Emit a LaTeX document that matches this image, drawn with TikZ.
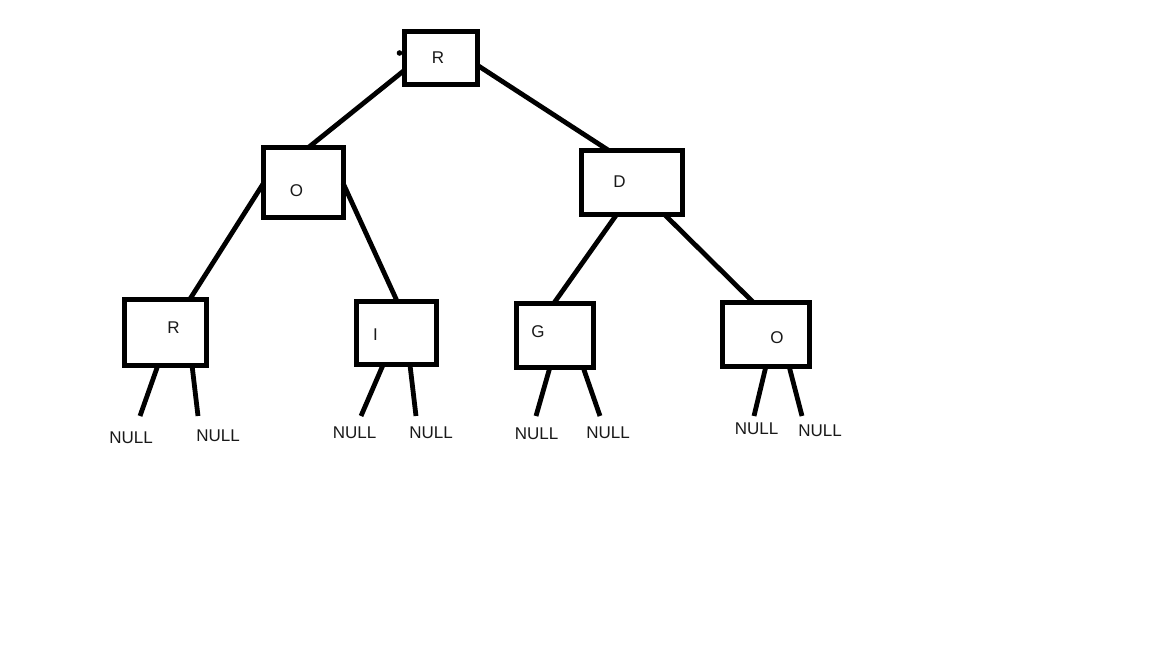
\documentclass[tikz,border=0pt]{standalone}
\usepackage{fontspec}
\setmainfont{Liberation Sans}
\begin{document}
\begin{tikzpicture}[x=1pt,y=-1pt,
  treebox/.style={draw=black,line width=5pt,inner sep=0pt,outer sep=0pt,rectangle},
  lbl/.style={inner sep=0pt,anchor=base,font=\fontsize{17}{17}\selectfont,text=black!90},
  link/.style={line width=4.8pt,draw=black}]
\useasboundingbox[fill=white] (0,0) rectangle (1152,648);
% boxes
\node[treebox,minimum width=73pt,minimum height=53pt] (R) at (440.5,57.5) {};
\node[treebox,minimum width=80pt,minimum height=70pt] (O) at (303,182) {};
\node[treebox,minimum width=101pt,minimum height=64pt] (D) at (631.5,182) {};
\node[treebox,minimum width=82pt,minimum height=66pt] (R2) at (165,332) {};
\node[treebox,minimum width=80pt,minimum height=63pt] (I) at (396,332.5) {};
\node[treebox,minimum width=77pt,minimum height=64pt] (G) at (554.5,335) {};
\node[treebox,minimum width=87pt,minimum height=64pt] (O2) at (765.5,334) {};
% letters
\node[lbl] (tR) at (438,63) {R};
\node[lbl] (tO) at (296.5,196) {O};
\node[lbl] (tD) at (619.5,187) {D};
\node[lbl] (tR2) at (173.5,333) {R};
\node[lbl] (tI) at (375.5,340) {I};
\node[lbl] (tG) at (538,337) {G};
\node[lbl] (tO2) at (777,343) {O};
% small dot on R
\fill ([shift={(-41,-4.5)}]R.center) circle (2.8pt);
% tree links
\draw[link] ([shift={(-37,13.5)}]R.center) -- ([shift={(6,-35)}]O.center);
\draw[link] ([shift={(36.5,7.5)}]R.center) -- ([shift={(-23.5,-32)}]D.center);
\draw[link] ([shift={(-40,2)}]O.center) -- ([shift={(25,-33)}]R2.center);
\draw[link] ([shift={(40,1)}]O.center) -- ([shift={(1,-31.5)}]I.center);
\draw[link] ([shift={(-14.5,32)}]D.center) -- ([shift={(-0.5,-32)}]G.center);
\draw[link] ([shift={(32.5,32)}]D.center) -- ([shift={(-12.5,-32)}]O2.center);
% null ends
\coordinate (e1) at (140,416);
\coordinate (e2) at (198,416);
\coordinate (e3) at (361,416);
\coordinate (e4) at (416,416);
\coordinate (e5) at (536,416);
\coordinate (e6) at (600,416);
\coordinate (e7) at (754,416);
\coordinate (e8) at (802,416);
\draw[link] ([shift={(-7,33)}]R2.center) -- (e1);
\draw[link] ([shift={(27,33)}]R2.center) -- (e2);
\draw[link] ([shift={(-13,32.5)}]I.center) -- (e3);
\draw[link] ([shift={(14,32.5)}]I.center) -- (e4);
\draw[link] ([shift={(-4.5,32)}]G.center) -- (e5);
\draw[link] ([shift={(28.5,32)}]G.center) -- (e6);
\draw[link] ([shift={(0.5,32)}]O2.center) -- (e7);
\draw[link] ([shift={(23.5,32)}]O2.center) -- (e8);
% NULL labels
\node[lbl] (n1) at (131,443) {NULL};
\node[lbl] (n2) at (218,441) {NULL};
\node[lbl] (n3) at (354.5,438) {NULL};
\node[lbl] (n4) at (431,438) {NULL};
\node[lbl] (n5) at (536.5,439) {NULL};
\node[lbl] (n6) at (608,438) {NULL};
\node[lbl] (n7) at (756.5,434) {NULL};
\node[lbl] (n8) at (820,436) {NULL};
\end{tikzpicture}
\end{document}
